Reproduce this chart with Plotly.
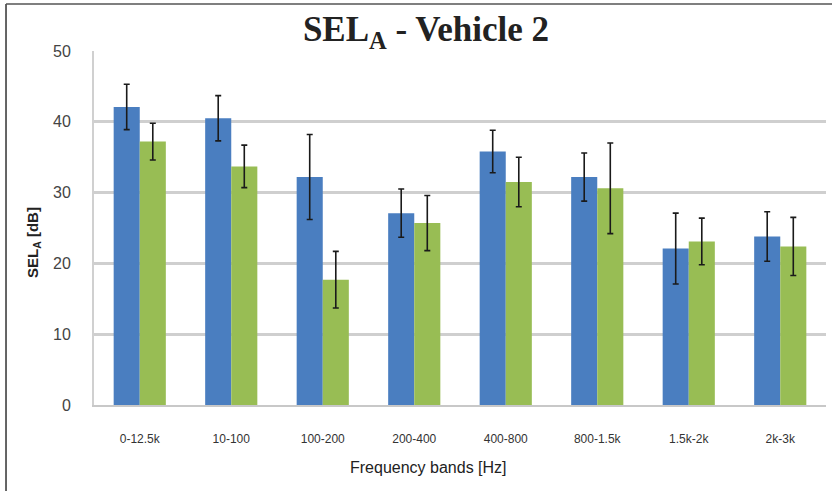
import plotly.graph_objects as go

categories = ["0-12.5k", "10-100", "100-200", "200-400", "400-800", "800-1.5k", "1.5k-2k", "2k-3k"]
series_a = [42.1, 40.5, 32.2, 27.1, 35.8, 32.2, 22.1, 23.8]
series_a_err = [3.2, 3.2, 6.0, 3.4, 3.0, 3.4, 5.0, 3.5]
series_b = [37.2, 33.7, 17.7, 25.7, 31.5, 30.6, 23.1, 22.4]
series_b_err = [2.6, 3.0, 4.0, 3.9, 3.5, 6.4, 3.3, 4.1]
y_ticks = [0, 10, 20, 30, 40, 50]

err_style = dict(type="data", visible=True, color="#1a1a1a", thickness=1.6, width=3)

fig = go.Figure()
fig.add_trace(go.Bar(x=categories, y=series_a, name="Vehicle 2 A",
                     marker=dict(color="#4a7ec0", line=dict(width=0)),
                     error_y=dict(array=series_a_err, **err_style)))
fig.add_trace(go.Bar(x=categories, y=series_b, name="Vehicle 2 B",
                     marker=dict(color="#98bd54", line=dict(width=0)),
                     error_y=dict(array=series_b_err, **err_style)))

fig.update_layout(
    width=832, height=491,
    margin=dict(l=94, r=6, t=51, b=86),
    paper_bgcolor="white", plot_bgcolor="white",
    barmode="group", bargap=0.43, bargroupgap=0,
    showlegend=False,
    title=dict(text="<b>SEL<sub>A</sub> - Vehicle 2</b>", x=426 / 832, xanchor="center",
               xref="container", yref="container", y=1 - 29 / 491, yanchor="middle",
               font=dict(family="Liberation Serif", size=35, color="#222222")),
    xaxis=dict(showgrid=False, showline=True, linecolor="#c8c8c8", linewidth=2,
               automargin=False, ticks="", ticklabelstandoff=22,
               tickfont=dict(family="Liberation Sans", size=12, color="#333333")),
    yaxis=dict(range=[0, 50], tickvals=y_ticks, showgrid=True, gridcolor="#cfcfcf", gridwidth=3,
               showline=True, linecolor="#d0d0d0", linewidth=2, zeroline=False,
               automargin=False, ticks="", ticklabelstandoff=18,
               tickfont=dict(family="Liberation Sans", size=16, color="#444444")),
    annotations=[
        dict(text="Frequency bands [Hz]", xref="paper", yref="paper",
             x=(428 - 94) / 732, y=(405 - 467) / 354, xanchor="center", yanchor="middle",
             showarrow=False, font=dict(family="Liberation Sans", size=16, color="#222222")),
        dict(text="<b>SEL<sub>A</sub> [dB]</b>", xref="paper", yref="paper",
             x=(33 - 94) / 732, y=(405 - 243) / 354, xanchor="center", yanchor="middle",
             textangle=-90, showarrow=False,
             font=dict(family="Liberation Sans", size=15, color="#222222")),
    ],
    shapes=[
        dict(type="line", xref="paper", yref="paper", x0=-0.1202, x1=-0.1202, y0=-0.3, y1=1.133,
             line=dict(color="#333333", width=1.5)),
        dict(type="line", xref="paper", yref="paper", x0=-0.1202, x1=1.01, y0=1.133, y1=1.133,
             line=dict(color="#555555", width=1.5)),
    ],
)

fig.write_html("out.html", config={"displayModeBar": False},
               post_script="document.body.style.margin='0';")
